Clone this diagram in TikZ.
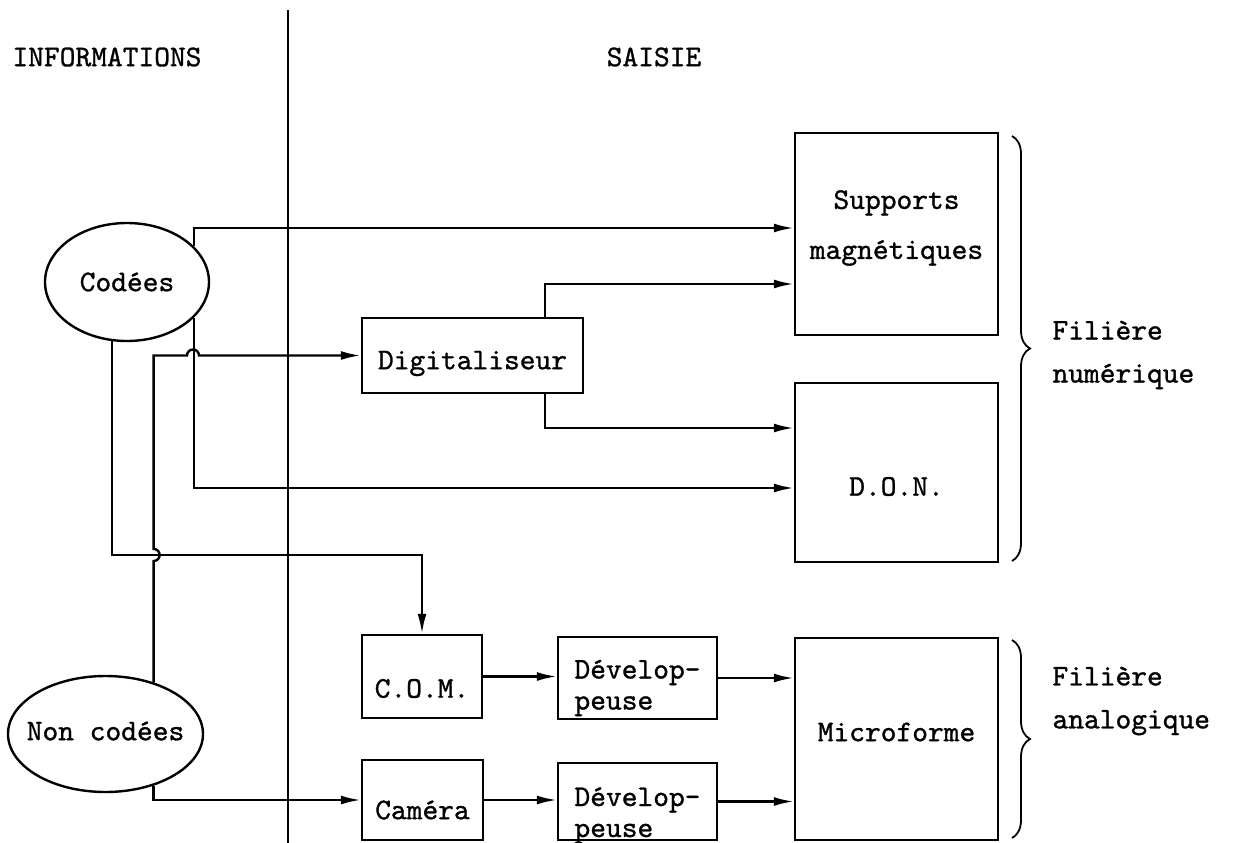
\documentclass[tikz,border=0pt]{standalone}
\usepackage{fontspec}
\newfontfamily\tw{lmmono10-regular.otf}[FakeBold=1.0]
\usetikzlibrary{arrows.meta,shapes.geometric,decorations.pathreplacing}
\begin{document}
\begin{tikzpicture}[x=1pt,y=-1pt,line width=2.4pt,
  font=\tw\fontsize{30}{31}\selectfont,
  box/.style={draw,rectangle,inner sep=0pt},
  oval/.style={draw,ellipse,fill=white,inner sep=0pt},
  arr/.style={-{Latex[length=20pt,width=9pt]}},
  brc/.style={decorate,decoration={brace,amplitude=18pt},line width=1.8pt},
  side/.style={anchor=west,align=left}]

\useasboundingbox (0,0) rectangle (1240,843);

% column headings and separator
\node (hinfo) at (107,57) {INFORMATIONS};
\node (hsai) at (654,57) {SAISIE};
\coordinate (dtop) at (288,10);
\coordinate (dbot) at (288,843);
\draw (dtop) -- (dbot);

% sources
\node[oval,minimum width=164pt,minimum height=118pt] (cod) at (127,282) {Codées};
\node[oval,minimum width=195pt,minimum height=116pt,
  label={[yshift=3pt]center:Non codées}] (nc) at (105.5,734) {};

% processing boxes
\node[box,minimum width=221pt,minimum height=75pt,
  label={[yshift=-8pt]center:Digitaliseur}] (dig) at (472.5,355.5) {};
\node[box,minimum width=120pt,minimum height=83pt,
  label={[yshift=-12pt]center:C.O.M.}] (com) at (422,676.5) {};
\node[box,minimum width=121pt,minimum height=80pt,
  label={[yshift=-10pt]center:Caméra}] (cam) at (422.5,800) {};
\node[box,minimum width=159pt,minimum height=82pt,
  label={[yshift=-10pt,align=left]center:Dévelop-\\peuse}] (dev1) at (637.5,678) {};
\node[box,minimum width=159pt,minimum height=77pt,
  label={[yshift=-14pt,align=left]center:Dévelop-\\peuse}] (dev2) at (637.5,801.5) {};

% storage media
\node[box,minimum width=203pt,minimum height=202pt,
  label={[yshift=6pt,align=center]center:Supports\\[19pt]magnétiques}] (sup) at (896.5,234) {};
\node[box,minimum width=203pt,minimum height=179pt,
  label={[yshift=-14pt]center:D.O.N.}] (don) at (896.5,472.5) {};
\node[box,minimum width=203pt,minimum height=202pt,
  label={[yshift=7pt]center:Microforme}] (mic) at (896.5,739) {};

% coded information
\draw[arr] (cod.28) |- (sup.west |- 0,228);
\draw[arr] (cod.-28) |- (don.west |- 0,488);
\draw[arr] (cod.-104) -- (cod.-104 |- 0,555) -| (com.north);

% non-coded information
\draw[arr] (nc.47) -- (nc.47 |- 0,561) arc[start angle=90,end angle=-90,radius=6]
  -- (nc.47 |- 0,355.5) -- (187,355.5) arc[start angle=180,end angle=360,radius=6] -- (dig.west);
\draw[arr] (nc.-47) |- (cam.west);

% digitiser outputs
\draw[arr] (dig.north -| 545,0) |- (sup.west |- 0,284);
\draw[arr] (dig.south -| 545,0) |- (don.west |- 0,428);

% film chain
\draw[arr] (com.east) -- (dev1.west |- com.east);
\draw[arr] (cam.east) -- (dev2.west |- cam.east);
\draw[arr] (dev1.east) -- (mic.west |- dev1.east);
\draw[arr] (dev2.east) -- (mic.west |- dev2.east);

% groupings
\coordinate (b1t) at (1012,136);
\coordinate (b1b) at (1012,561);
\coordinate (b2t) at (1012,640);
\coordinate (b2b) at (1012,838);
\draw[brc] (b1t) -- (b1b);
\draw[brc] (b2t) -- (b2b);
\node[side] (lnum) at (1048,355) {Filière\\[12pt]numérique};
\node[side] (lana) at (1048,701) {Filière\\[12pt]analogique};
\end{tikzpicture}
\end{document}
